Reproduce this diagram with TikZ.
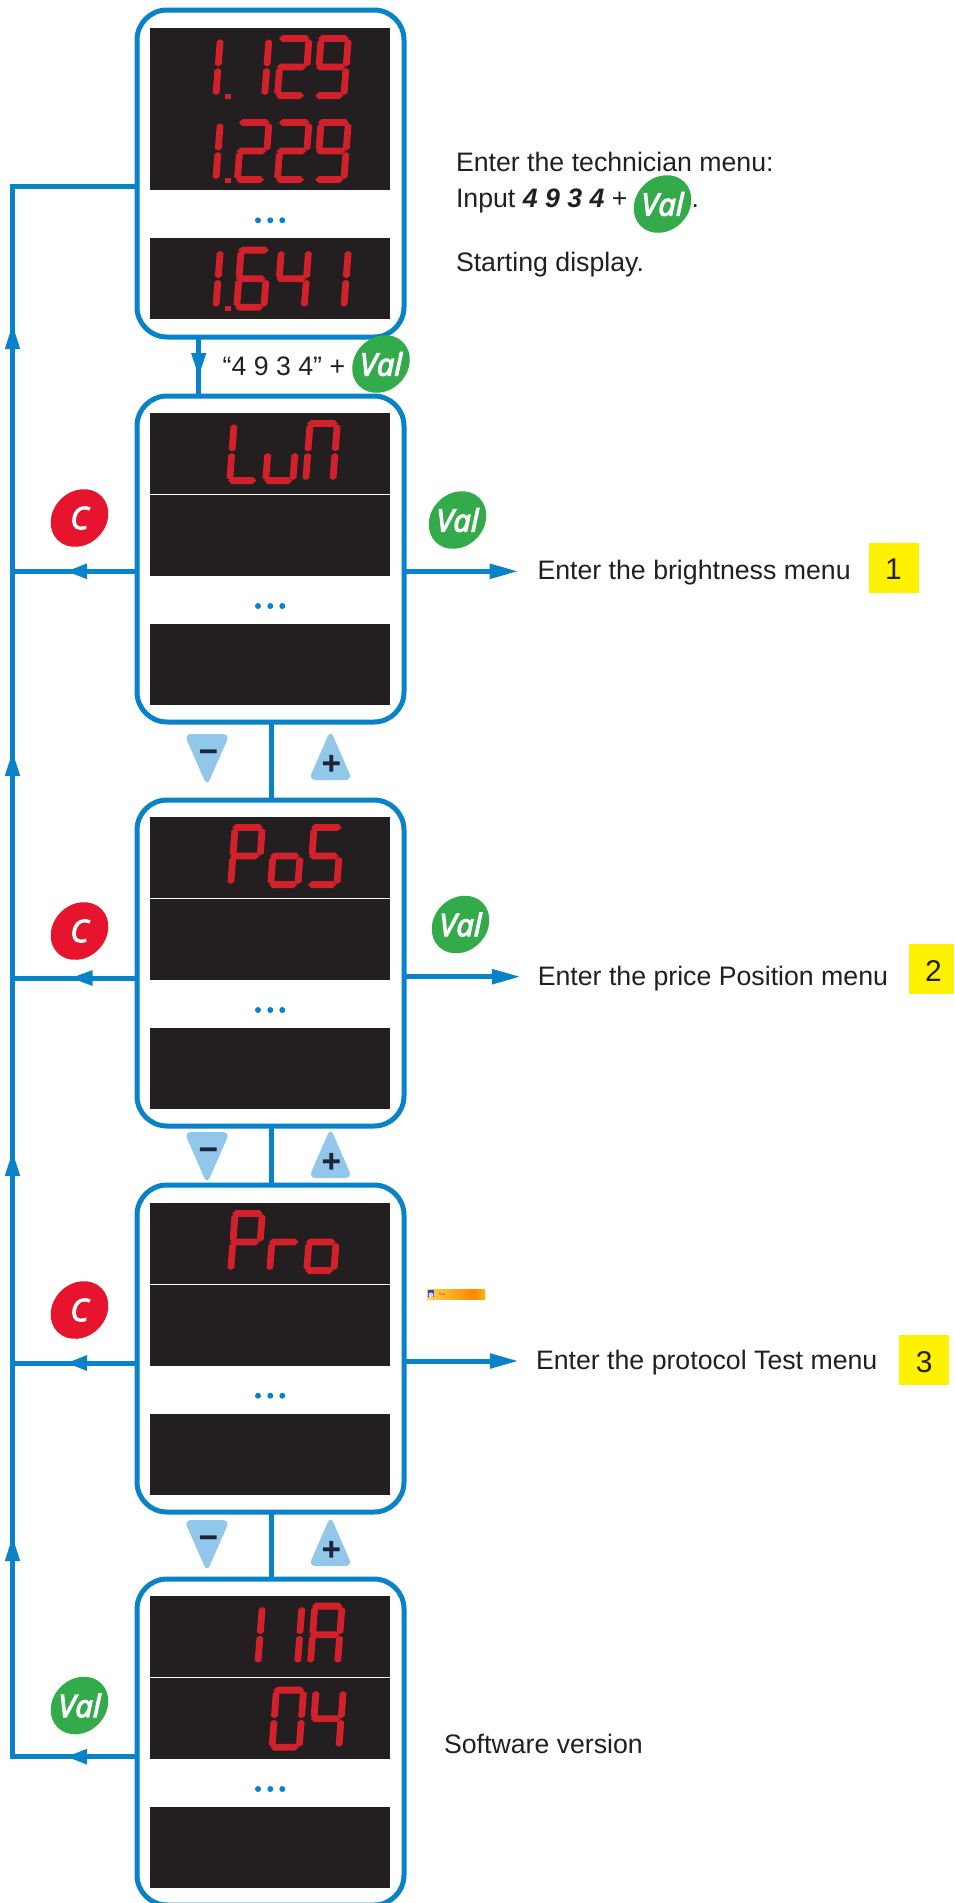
\documentclass[tikz,border=0pt]{standalone}
\usepackage{fontspec}
\setmainfont{Liberation Sans}
\newfontfamily\valfont[ItalicFeatures={FakeBold=3.5}]{Open Sans}
\usetikzlibrary{arrows.meta}
\definecolor{lineblue}{HTML}{0882C8}
\definecolor{screenblack}{HTML}{231F20}
\definecolor{segred}{HTML}{D2212A}
\definecolor{valgreen}{HTML}{34AB4A}
\definecolor{cred}{HTML}{E6142D}
\definecolor{tribue}{HTML}{92C7EC}
\definecolor{signdark}{HTML}{1C2436}
\definecolor{markyellow}{HTML}{FFF200}
\tikzset{
  panel/.style={draw=lineblue,line width=5pt,rounded corners=30pt,minimum width=267pt,inner sep=0pt,outer sep=0pt,fill=white},
  conn/.style={draw=lineblue,line width=5pt},
  headfill/.style={fill=lineblue,draw=none},
  lab/.style={anchor=base west,inner sep=0pt,outer sep=0pt,text=screenblack,font=\fontsize{26.7}{30}\selectfont},
  num/.style={anchor=base,inner sep=0pt,outer sep=0pt,text=screenblack,font=\fontsize{30}{32}\selectfont},
  blobtxt/.style={inner sep=0pt,outer sep=0pt,text=white,font=\valfont\itshape\fontsize{31}{33}\selectfont},
  signtxt/.style={inner sep=0pt,outer sep=0pt,text=signdark,font=\valfont\bfseries\itshape\fontsize{36}{38}\selectfont},
}
% arrowheads with their apex on a named coordinate
\newcommand\headup[2]{\fill[headfill] (#1) -- ++(-7.7,#2) -- ++(15.4,0) -- cycle;}
\newcommand\headdown[2]{\fill[headfill] (#1) -- ++(-7.7,-#2) -- ++(15.4,0) -- cycle;}
\newcommand\headleft[2]{\fill[headfill] (#1) -- ++(#2,-7.9) -- ++(0,15.8) -- cycle;}
\newcommand\headright[2]{\fill[headfill] (#1) -- ++(-#2,-7.9) -- ++(0,15.8) -- cycle;}
% seven segment parts
\newcommand\SegH[3]{\fill[segred] (#2,#1) -- (#2+3.4,#1-3.4) -- (#3-3.4,#1-3.4) -- (#3,#1) -- (#3-3.4,#1+3.4) -- (#2+3.4,#1+3.4) -- cycle;}
\newcommand\SegV[3]{\fill[segred] (#1,#2) -- (#1+3.4,#2+2) -- (#1+3.4,#3-2) -- (#1,#3) -- (#1-3.4,#3-2) -- (#1-3.4,#2+2) -- cycle;}
\newcommand\SegA{\SegH{3.4}{0.5}{31}}
\newcommand\SegG{\SegH{32}{0.5}{30}}
\newcommand\SegD{\SegH{60.6}{2}{30}}
\newcommand\SegF{\SegV{3.4}{4.3}{31.5}}
\newcommand\SegB{\SegV{30.6}{4.3}{31.5}}
\newcommand\SegE{\SegV{3.4}{33}{60}}
\newcommand\SegC{\SegV{30.6}{33}{60}}
\newcommand\dgt[3]{\begin{scope}[shift={(#1-34,#2)},xslant=.078]#3\end{scope}}
\newcommand\screen[2]{\fill[screenblack] (150,#1) rectangle (390,#2);}
\newcommand\threedots[1]{\fill[lineblue] (258,#1) circle (3pt) (270.3,#1) circle (3pt) (282.3,#1) circle (3pt);}
\newcommand\blob[4]{\fill[#3,rotate around={45:(#2)}] (#2) ellipse (31pt and 26.5pt);
  \node[blobtxt] (#1) at (#2) {#4};}
\newcommand\pmbuttons[2]{%
  \fill[tribue,rounded corners=7pt] (184.2,#2) -- (229.8,#2) -- (207,#2+52) -- cycle;
  \fill[tribue,rounded corners=7pt] (330.5,#2-4) -- (352.3,#2+46) -- (308.7,#2+46) -- cycle;
  \node[signtxt] (minus#1) at (208.5,#2+23) {−};
  \node[signtxt] (plus#1) at (331,#2+32) {+};}
\begin{document}
\begin{tikzpicture}[x=1pt,y=-1pt]
\useasboundingbox (0,0) rectangle (954,1903);
\fill[white] (0,0) rectangle (954,1903);
% panels
\node[panel,minimum height=327pt] (b1) at (270.5,173.5) {};
\node[panel,minimum height=326pt] (b2) at (270.5,559) {};
\node[panel,minimum height=326pt] (b3) at (270.5,963) {};
\node[panel,minimum height=327pt] (b4) at (270.5,1348.5) {};
\node[panel,minimum height=326pt] (b5) at (270.5,1742) {};
% screens
\screen{28}{190}\screen{238}{319}
\screen{413}{494}\screen{495}{576}\screen{624}{705}
\screen{817}{898}\screen{899}{980}\screen{1028}{1109}
\screen{1203}{1284}\screen{1285}{1366}\screen{1414}{1495}
\screen{1596}{1677}\screen{1678}{1759}\screen{1807}{1888}
\threedots{220.3}\threedots{606}\threedots{1010}\threedots{1395.7}\threedots{1789}
% digits: 1.129
\dgt{224}{35}{\SegB\SegC}
\fill[segred] (225,94) rectangle (231,99);
\dgt{272.7}{35}{\SegB\SegC}
\dgt{312.7}{35}{\SegA\SegB\SegG\SegE\SegD}
\dgt{352}{35}{\SegA\SegB\SegC\SegD\SegF\SegG}
% 1.229
\dgt{224}{119}{\SegB\SegC}
\fill[segred] (225,178) rectangle (231,183);
\dgt{272.7}{119}{\SegA\SegB\SegG\SegE\SegD}
\dgt{312.7}{119}{\SegA\SegB\SegG\SegE\SegD}
\dgt{352}{119}{\SegA\SegB\SegC\SegD\SegF\SegG}
% 1.641
\dgt{224}{246.7}{\SegB\SegC}
\fill[segred] (225,305.7) rectangle (231,310.7);
\dgt{272}{246.7}{\SegA\SegC\SegD\SegE\SegF\SegG}
\dgt{312.3}{246.7}{\SegB\SegC\SegF\SegG}
\dgt{352}{246.7}{\SegB\SegC}
% LuN
\dgt{265}{420}{\SegD\SegE\SegF}
\dgt{301}{420}{\SegC\SegD\SegE}
\dgt{341}{420}{\SegA\SegB\SegC\SegE\SegF}
% PoS
\dgt{266}{824}{\SegA\SegB\SegE\SegF\SegG}
\dgt{306}{824}{\SegC\SegD\SegE\SegG}
\dgt{345}{824}{\SegA\SegC\SegD\SegF\SegG}
% Pro
\dgt{266}{1210}{\SegA\SegB\SegE\SegF\SegG}
\dgt{305}{1210}{\SegE\SegG}
\dgt{342}{1210}{\SegC\SegD\SegE\SegG}
% 11A
\dgt{266}{1602.7}{\SegB\SegC}
\dgt{305.7}{1602.7}{\SegB\SegC}
\dgt{345.7}{1602.7}{\SegA\SegB\SegC\SegE\SegF\SegG}
% 04
\dgt{307.3}{1686.7}{\SegA\SegB\SegC\SegD\SegE\SegF}
\dgt{347}{1686.7}{\SegB\SegC\SegF\SegG}
% rail coordinates
\coordinate (rtop) at (12.5,186);
\coordinate (r2) at (12.5,571.3);
\coordinate (r3) at (12.5,978);
\coordinate (r4) at (12.5,1363);
\coordinate (r5) at (12.5,1756.7);
\coordinate (ua) at (12.5,325);
\coordinate (ub) at (12.5,752);
\coordinate (uc) at (12.5,1152);
\coordinate (ud) at (12.5,1537);
\coordinate (la) at (67,571.3);
\coordinate (lb) at (71,978);
\coordinate (lc) at (67,1363);
\coordinate (ld) at (67,1756.7);
% rail and left branches
\draw[conn,line join=miter] (rtop -| b1.west) -- (rtop) -- (r5) -- (r5 -| b5.west);
\headup{ua}{24}\headup{ub}{24}\headup{uc}{24}\headup{ud}{24}
\draw[conn] (r2 -| b2.west) -- (r2);
\draw[conn] (r3 -| b3.west) -- (r3);
\draw[conn] (r4 -| b4.west) -- (r4);
\headleft{la}{20}\headleft{lb}{21.5}\headleft{lc}{20}\headleft{ld}{20}
% vertical links
\coordinate (dn) at (198.7,376);
\draw[conn] (dn |- b1.south) -- (dn |- b2.north);
\headdown{dn}{23}
\coordinate (xc) at (271.7,0);
\draw[conn] (b2.south -| xc) -- (b3.north -| xc);
\draw[conn] (b3.south -| xc) -- (b4.north -| xc);
\draw[conn] (b4.south -| xc) -- (b5.north -| xc);
% right arrows
\coordinate (ra) at (517,571.3);
\coordinate (rb) at (519.4,976.7);
\coordinate (rc) at (517.3,1361);
\draw[conn] (ra -| b2.east) -- ([xshift=-15pt]ra);
\draw[conn] (rb -| b3.east) -- ([xshift=-15pt]rb);
\draw[conn] (rc -| b4.east) -- ([xshift=-15pt]rc);
\headright{ra}{27.5}\headright{rb}{27.5}\headright{rc}{27.5}
% buttons
\blob{val1}{381,364}{valgreen}{Val}
\blob{val2}{662.5,204}{valgreen}{Val}
\blob{val3}{457.5,520}{valgreen}{Val}
\blob{val4}{460.5,924.5}{valgreen}{Val}
\blob{val5}{79.5,1705.5}{valgreen}{Val}
\blob{c1}{79.5,518}{cred}{C}
\blob{c2}{79.5,931}{cred}{C}
\blob{c3}{79.5,1310}{cred}{C}
\pmbuttons{a}{734}
\pmbuttons{b}{1132}
\pmbuttons{c}{1520}
% texts
\node[lab] (t1) at (456,171.7) {Enter the technician menu:};
\node[lab] (t2) at (456,207) {Input {\bfseries\itshape 4 9 3 4} +};
\node[lab] (t2b) at (691.5,207) {.};
\node[lab] (t3) at (456,271) {Starting display.};
\node[lab] (t4) at (222.7,375.2) {“4 9 3 4” +};
\node[lab] (t5) at (537.5,579.7) {Enter the brightness menu};
\node[lab] (t6) at (537.8,985) {Enter the price Position menu};
\node[lab] (t7) at (536,1369.3) {Enter the protocol Test menu};
\node[lab] (t8) at (444,1753) {Software version};
% yellow markers
\fill[markyellow] (869,543) rectangle (919,593);
\fill[markyellow] (909,944) rectangle (954,994);
\fill[markyellow] (899,1335) rectangle (949,1385);
\node[num] (n1) at (893.5,579.7) {1};
\node[num] (n2) at (933.5,981.5) {2};
\node[num] (n3) at (924.3,1372.5) {3};
% orange strip
\shade[left color=yellow!50!orange!70!white,right color=orange!95!yellow] (427,1289) rectangle (474,1299);
\shade[left color=orange!95!yellow,right color=orange!55!yellow] (474,1289) rectangle (485,1299);
\fill[blue!50!gray] (427.5,1290) rectangle (434,1297);
\fill[white!85!blue] (431,1295) circle (2.5pt);
\node[inner sep=0pt,text=black!60,font=\fontsize{3.5}{4}\selectfont] (strip) at (442,1294) {Test};
\end{tikzpicture}
\end{document}
